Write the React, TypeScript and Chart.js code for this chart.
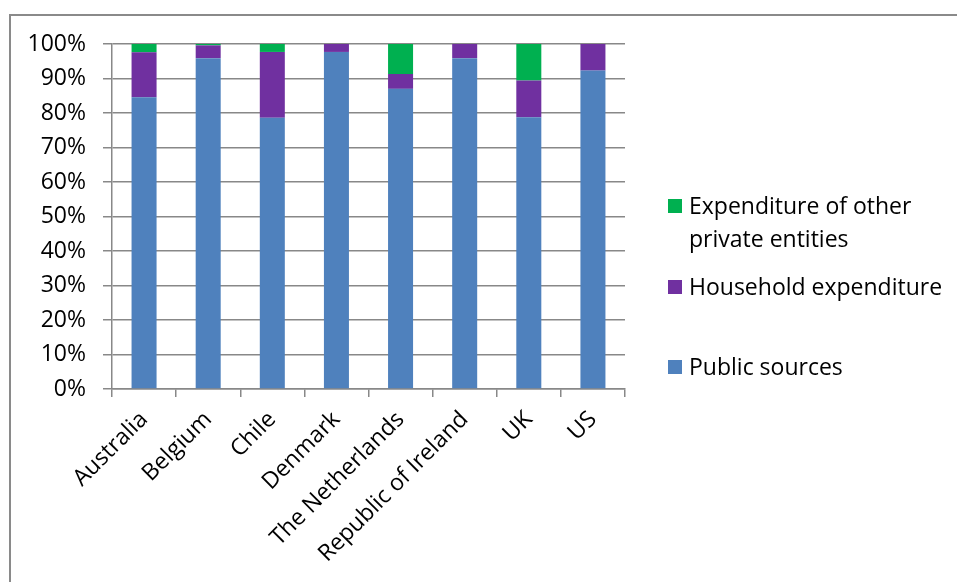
import React, { useEffect, useRef } from "react";
import { Chart, registerables } from "chart.js";
Chart.register(...registerables);

const categories = ["Australia", "Belgium", "Chile", "Denmark", "The Netherlands", "Republic of Ireland", "UK", "US"];
const publicSources = [84.6, 95.9, 78.6, 97.7, 87.0, 95.9, 78.8, 92.3];
const householdExpenditure = [13.0, 3.7, 19.1, 2.3, 4.3, 4.1, 10.6, 7.7];
const otherPrivate = [2.4, 0.4, 2.3, 0, 8.7, 0, 10.6, 0];
const seriesNames = ["Public sources", "Household expenditure", "Expenditure of other private entities"];
const seriesColors = ["#4F81BD", "#7030A0", "#00B050"];

const FONT = "Open Sans";
const FS = 23;

export default function App() {
  const ref = useRef<HTMLCanvasElement>(null);
  useEffect(() => {
    const ctx = ref.current!;
    const chart = new Chart(ctx, {
      type: "bar",
      data: {
        labels: categories,
        datasets: [
          { label: seriesNames[0], data: publicSources, backgroundColor: seriesColors[0] },
          { label: seriesNames[1], data: householdExpenditure, backgroundColor: seriesColors[1] },
          { label: seriesNames[2], data: otherPrivate, backgroundColor: seriesColors[2] },
        ],
      },
      options: {
        responsive: false,
        animation: false,
        devicePixelRatio: 1,
        layout: { padding: { left: 0, top: 44, right: 332, bottom: 0 } },
        plugins: { legend: { display: false }, tooltip: { enabled: false } },
        datasets: { bar: { categoryPercentage: 1, barPercentage: 0.39 } },
        scales: {
          x: {
            stacked: true,
            grid: { drawOnChartArea: false, drawTicks: true, tickLength: 8, color: "#888888", lineWidth: 1.5 },
            border: { display: true, color: "#888888", width: 1.5 },
            ticks: {
              autoSkip: false,
              minRotation: 45,
              maxRotation: 45,
              color: "#000",
              font: { family: FONT, size: FS },
              padding: 9,
            },
            afterFit: (s: any) => { s.height = 193; },
          },
          y: {
            stacked: true,
            min: 0,
            max: 100,
            grid: { color: "#888888", lineWidth: 1.5, tickLength: 9 },
            border: { display: true, color: "#888888", width: 1.5 },
            ticks: {
              stepSize: 10,
              color: "#000",
              padding: 17,
              font: { family: FONT, size: FS },
              callback: (v: any) => v + "%",
            },
            afterFit: (s: any) => { s.width = 112; },
          },
        },
      },
    });
    return () => chart.destroy();
  }, []);

  const legendItems = [
    { color: seriesColors[2], lines: ["Expenditure of other", "private entities"], top: 189 },
    { color: seriesColors[1], lines: ["Household expenditure"], top: 270 },
    { color: seriesColors[0], lines: ["Public sources"], top: 350 },
  ];

  return (
    <div style={{ position: "fixed", left: 0, top: 0, width: 957, height: 582, background: "#fff", overflow: "hidden" }}>
      <div style={{ position: "absolute", left: 9, top: 14, width: 1000, height: 700, borderTop: "2px solid #8a8a8a", borderLeft: "2px solid #8a8a8a" }} />
      <canvas ref={ref} width={957} height={582} style={{ position: "absolute", left: 0, top: 0, width: 957, height: 582 }} />
      {legendItems.map((it, i) => (
        <div key={i} style={{ position: "absolute", left: 668, top: it.top, fontFamily: FONT, fontSize: FS, lineHeight: "33px", color: "#000" }}>
          <div style={{ position: "absolute", left: 0, top: 10, width: 14, height: 14, background: it.color }} />
          <div style={{ marginLeft: 21, whiteSpace: "nowrap" }}>
            {it.lines.map((l, j) => <div key={j}>{l}</div>)}
          </div>
        </div>
      ))}
    </div>
  );
}
